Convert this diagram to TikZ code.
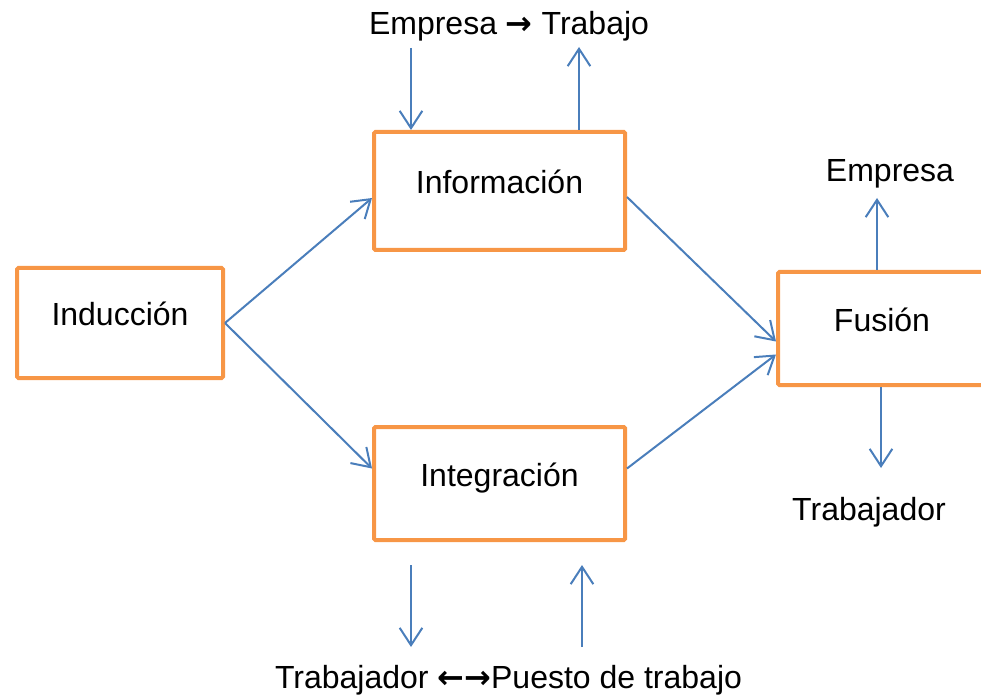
\documentclass[tikz,border=0pt]{standalone}
\usepackage{fontspec}
\setmainfont{Liberation Sans}
\newfontfamily\arrowfont{DejaVu Sans}
\usetikzlibrary{arrows.meta}
\usetikzlibrary{calc}
\definecolor{boxorange}{HTML}{F79646}
\definecolor{flowblue}{HTML}{4A7EBB}

\begin{document}
\begin{tikzpicture}[x=0.75pt, y=-0.75pt,
    every node/.style={font=\fontsize{24}{29}\selectfont},
    stage/.style={draw=boxorange, line width=3pt, rounded corners=1pt, inner sep=0pt, text height=17.2pt, text depth=13pt},
    flow/.style={draw=flowblue, line width=1.5pt, -{Straight Barb[length=13pt, width=17pt]}}]
    \useasboundingbox (0,0) rectangle (981,698);

    \node[stage, minimum width=154.5pt, minimum height=82.5pt] (ind) at (120,323) {Inducción};
    \node[stage, minimum width=188.25pt, minimum height=88.5pt] (inf) at (499.5,191) {Información};
    \node[stage, minimum width=188.25pt, minimum height=84.75pt] (int) at (499.5,483.5) {Integración};
    \node[stage, minimum width=156pt, minimum height=84.75pt] (fus) at (882,328.5) {Fusión};

    \node[anchor=base] (lbltop) at (509,35) {Empresa {\arrowfont\bfseries →} Trabajo};
    \node[anchor=base] (lblemp) at (890,182) {Empresa};
    \node[anchor=base] (lbltrab) at (869,520) {Trabajador};
    \node[anchor=base] (lblbot) at (508.5,688) {Trabajador {\arrowfont\bfseries ←→}Puesto de trabajo};

    \draw[flow] (ind.east) -- ($(inf.west)+(0,7)$);
    \draw[flow] (ind.east) -- ($(int.west)+(0,-15)$);
    \draw[flow] ($(inf.east)+(0,6)$) -- ($(fus.west)+(0,13)$);
    \draw[flow] ($(int.east)+(0,-15)$) -- ($(fus.west)+(0,26)$);

    % arrows at the top of Informacion
    \coordinate (e1) at (411,48);
    \coordinate (t1) at (579,47);
    \draw[flow] (e1) -- (e1 |- inf.north);
    \draw[flow] (t1 |- inf.north) -- (t1);

    % arrows of Fusion
    \coordinate (e2) at (877,198);
    \coordinate (t2) at (881,468);
    \draw[flow] (e2 |- fus.north) -- (e2);
    \draw[flow] (t2 |- fus.south) -- (t2);

    % arrows under Integracion
    \coordinate (b1) at (411,565);
    \coordinate (b2) at (411,647);
    \coordinate (b3) at (582,647);
    \coordinate (b4) at (582,565);
    \draw[flow] (b1) -- (b2);
    \draw[flow] (b3) -- (b4);
  \end{tikzpicture}
\end{document}
